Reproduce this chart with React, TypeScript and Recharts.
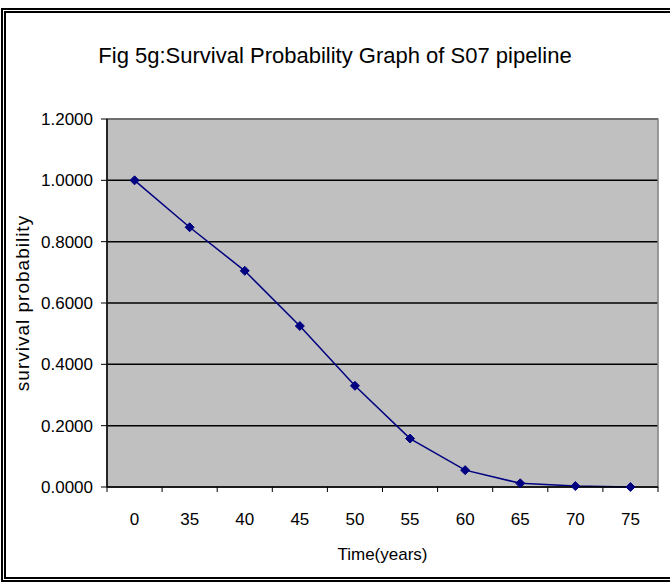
import React from "react";
import {
  CartesianGrid,
  Line,
  LineChart,
  ReferenceArea,
  XAxis,
  YAxis
} from "recharts";

const years = ["0", "35", "40", "45", "50", "55", "60", "65", "70", "75"];
const survival = [1.0, 0.847, 0.705, 0.525, 0.33, 0.158, 0.055, 0.012, 0.003, 0.0];
const yTicks = [0, 0.2, 0.4, 0.6, 0.8, 1.0, 1.2];

const data = years.map((y, i) => ({ idx: i, year: y, value: survival[i] }));
// ticks at category centres (labels) and at category edges (tick marks)
const xTicks = years.flatMap((_, i) => (i === 0 ? [-0.5, 0, 0.5] : [i, i + 0.5]));

const font = "Arial, 'Liberation Sans', sans-serif";

const XTick = (props: any) => {
  const { x, y, payload } = props;
  const v = payload.value;
  if (v % 1 !== 0) {
    return <line x1={x} x2={x} y1={y} y2={y + 5} stroke="#000" strokeWidth={1} />;
  }
  return (
    <text x={x} y={y + 38} textAnchor="middle" fontSize={17} fontFamily={font} fill="#000">
      {years[v]}
    </text>
  );
};

const Diamond = (props: any) => {
  const { cx, cy } = props;
  if (cx == null || cy == null) return null;
  const r = 4.5;
  return (
    <path
      d={`M${cx},${cy - r}L${cx + r},${cy}L${cx},${cy + r}L${cx - r},${cy}Z`}
      fill="#000080"
      stroke="#000080"
    />
  );
};

export default function App() {
  return (
    <div
      style={{
        position: "absolute",
        left: 0,
        top: 0,
        width: 670,
        height: 582,
        overflow: "hidden",
        background: "#fff",
        fontFamily: font
      }}
    >
      <div
        style={{
          position: "absolute",
          left: 1,
          top: 8,
          width: 680,
          height: 564,
          border: "5px double #000"
        }}
      />
      <div
        style={{
          position: "absolute",
          left: 0,
          width: 670,
          top: 44,
          textAlign: "center",
          fontSize: 22,
          lineHeight: "24px",
          color: "#000"
        }}
      >
        Fig 5g:Survival Probability Graph of S07 pipeline
      </div>
      <LineChart
        width={670}
        height={582}
        data={data}
        margin={{ top: 119, right: 12, bottom: 0, left: 0 }}
      >
        <CartesianGrid vertical={false} stroke="#000" strokeWidth={1.5} fill="#C0C0C0" fillOpacity={1} />
        <ReferenceArea y1={0} y2={1.2} fill="none" stroke="#808080" strokeWidth={1.5} ifOverflow="visible" />
        <XAxis
          dataKey="idx"
          type="number"
          domain={[-0.5, 9.5]}
          ticks={xTicks}
          interval={0}
          tick={<XTick />}
          tickLine={false}
          tickSize={0}
          tickMargin={0}
          axisLine={{ stroke: "#000", strokeWidth: 1.5 }}
          height={95}
          label={{
            value: "Time(years)",
            position: "insideBottom",
            offset: 22,
            fontSize: 17,
            fontFamily: font,
            fill: "#000"
          }}
        />
        <YAxis
          domain={[0, 1.2]}
          ticks={yTicks}
          interval={0}
          width={107}
          tickFormatter={(v: number) => v.toFixed(4)}
          tick={{ fontSize: 17, fontFamily: font, fill: "#000" }}
          tickSize={6}
          tickMargin={8}
          tickLine={{ stroke: "#000" }}
          axisLine={{ stroke: "#000", strokeWidth: 1.5 }}
          label={{
            value: "survival probability",
            angle: -90,
            position: "insideLeft",
            offset: 22,
            fontSize: 19,
            fontFamily: font,
            fill: "#000",
            letterSpacing: 1,
            style: { textAnchor: "middle" }
          }}
        />
        <Line
          type="linear"
          dataKey="value"
          stroke="#000080"
          strokeWidth={1.5}
          dot={<Diamond />}
          activeDot={false}
          isAnimationActive={false}
        />
      </LineChart>
    </div>
  );
}
